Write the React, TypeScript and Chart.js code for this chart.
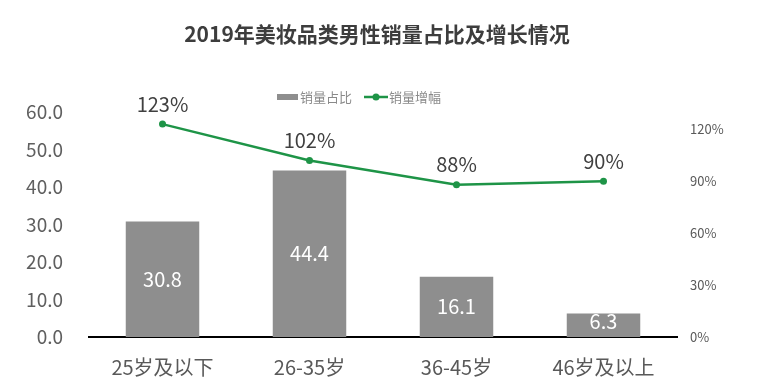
import React, { useEffect, useRef } from "react";
import { Chart, registerables } from "chart.js";

Chart.register(...registerables);

const TITLE = "2019年美妆品类男性销量占比及增长情况";
const categories = ["25岁及以下", "26-35岁", "36-45岁", "46岁及以上"];
const shareLabel = "销量占比";
const shareValues = [30.8, 44.4, 16.1, 6.3];
const growthLabel = "销量增幅";
const growthValues = [123, 102, 88, 90];

const FONT = "'Noto Sans CJK SC', 'Noto Sans', sans-serif";
const BAR_COLOR = "#8E8E8E";
const LINE_COLOR = "#1E9447";

const decorPlugin = {
  id: "decor",
  afterDraw(chart: any) {
    const ctx = chart.ctx;
    ctx.save();
    // title
    ctx.fillStyle = "#3d3d3d";
    ctx.font = `bold 21px ${FONT}`;
    ctx.textAlign = "center";
    ctx.textBaseline = "middle";
    ctx.fillText(TITLE, 377, 34);

    // legend
    const ly = 97;
    ctx.font = `13px ${FONT}`;
    ctx.textAlign = "left";
    ctx.fillStyle = BAR_COLOR;
    ctx.fillRect(277, ly - 3, 21, 6);
    ctx.fillStyle = "#8a8a8a";
    ctx.fillText(chart.data.datasets[0].label, 300, ly);
    ctx.strokeStyle = LINE_COLOR;
    ctx.lineWidth = 2.5;
    ctx.beginPath();
    ctx.moveTo(364, ly);
    ctx.lineTo(388, ly);
    ctx.stroke();
    ctx.fillStyle = LINE_COLOR;
    ctx.beginPath();
    ctx.arc(376, ly, 3.5, 0, Math.PI * 2);
    ctx.fill();
    ctx.fillStyle = "#8a8a8a";
    ctx.fillText(chart.data.datasets[1].label, 389, ly);

    // bar value labels
    const barMeta = chart.getDatasetMeta(0);
    ctx.font = `20px ${FONT}`;
    ctx.textAlign = "center";
    ctx.fillStyle = "#ffffff";
    barMeta.data.forEach((el: any, i: number) => {
      const v = chart.data.datasets[0].data[i];
      const mid = (el.y + el.base) / 2;
      const y = Math.min(mid, el.base - 16);
      ctx.fillText(v.toFixed(1), el.x, y);
    });

    // line value labels
    const lineMeta = chart.getDatasetMeta(1);
    ctx.fillStyle = "#404040";
    lineMeta.data.forEach((el: any, i: number) => {
      const v = chart.data.datasets[1].data[i];
      ctx.fillText(v + "%", el.x, el.y - 20);
    });
    ctx.restore();
  },
};

export default function App() {
  const ref = useRef<HTMLCanvasElement>(null);
  useEffect(() => {
    if (!ref.current) return;
    const chart = new Chart(ref.current, {
      type: "bar",
      data: {
        labels: categories,
        datasets: [
          {
            type: "bar",
            label: shareLabel,
            data: shareValues,
            backgroundColor: BAR_COLOR,
            yAxisID: "y",
            categoryPercentage: 1,
            barPercentage: 0.5,
            order: 2,
          },
          {
            type: "line",
            label: growthLabel,
            data: growthValues,
            borderColor: LINE_COLOR,
            backgroundColor: LINE_COLOR,
            borderWidth: 2.5,
            pointRadius: 3.5,
            pointBackgroundColor: LINE_COLOR,
            pointBorderWidth: 0,
            yAxisID: "y1",
            order: 1,
          },
        ],
      },
      options: {
        animation: false,
        responsive: false,
        maintainAspectRatio: false,
        layout: { padding: { top: 112, left: 0, right: 0, bottom: 0 } },
        plugins: {
          legend: { display: false },
          title: { display: false },
          tooltip: { enabled: false },
        },
        scales: {
          x: {
            grid: { display: false, drawTicks: false },
            border: { display: true, color: "#000000", width: 2 },
            ticks: {
              color: "#595959",
              font: { family: FONT, size: 20 },
              padding: 18,
            },
            afterFit(scale: any) {
              scale.height = 52;
            },
          },
          y: {
            position: "left",
            min: 0,
            max: 60,
            grid: { display: false, drawTicks: false },
            border: { display: false },
            ticks: {
              stepSize: 10,
              color: "#5f5f5f",
              font: { family: FONT, size: 19 },
              padding: 26,
              callback: (v: any) => Number(v).toFixed(1),
            },
            afterFit(scale: any) {
              scale.width = 89;
            },
          },
          y1: {
            position: "right",
            min: 0,
            max: 130,
            grid: { display: false, drawTicks: false },
            border: { display: false },
            ticks: {
              stepSize: 30,
              color: "#595959",
              font: { family: FONT, size: 13 },
              padding: 13,
              callback: (v: any) => v + "%",
            },
            afterBuildTicks(scale: any) {
              scale.ticks = scale.ticks.filter((t: any) => t.value % 30 === 0);
            },
            afterFit(scale: any) {
              scale.width = 90;
            },
          },
        },
      },
      plugins: [decorPlugin],
    } as any);
    return () => chart.destroy();
  }, []);
  return (
    <div style={{ position: "absolute", left: 0, top: 0, width: 767, height: 389, background: "#fff" }}>
      <canvas ref={ref} width={767} height={389} />
    </div>
  );
}
